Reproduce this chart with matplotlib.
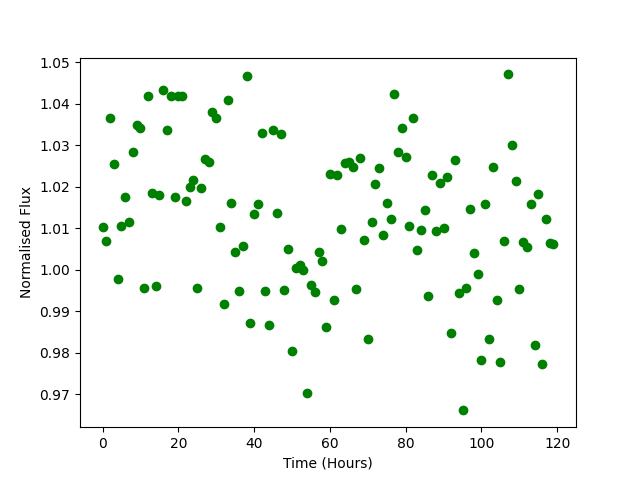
import matplotlib
matplotlib.use("Agg")
import matplotlib.pyplot as plt
import numpy as np

time_hours = list(range(120))
flux = [
    1.0104, 1.0070, 1.0367, 1.0254, 0.9977, 1.0106, 1.0176, 1.0116, 1.0285, 1.0350,
    1.0341, 0.9957, 1.0420, 1.0184, 0.9960, 1.0180, 1.0433, 1.0336, 1.0420, 1.0176,
    1.0418, 1.0420, 1.0165, 1.0199, 1.0216, 0.9955, 1.0197, 1.0266, 1.0261, 1.0380,
    1.0367, 1.0102, 0.9917, 1.0410, 1.0160, 1.0044, 0.9948, 1.0058, 1.0468, 0.9871,
    1.0134, 1.0158, 1.0329, 0.9948, 0.9868, 1.0336, 1.0136, 1.0327, 0.9952, 1.0049,
    0.9804, 1.0005, 1.0011, 1.0000, 0.9702, 0.9963, 0.9946, 1.0042, 1.0020, 0.9861,
    1.0230, 0.9926, 1.0228, 1.0098, 1.0257, 1.0261, 1.0247, 0.9953, 1.0269, 1.0071,
    0.9833, 1.0114, 1.0206, 1.0245, 1.0083, 1.0160, 1.0122, 1.0423, 1.0283, 1.0341,
    1.0273, 1.0105, 1.0367, 1.0047, 1.0095, 1.0143, 0.9936, 1.0228, 1.0093, 1.0208,
    1.0100, 1.0223, 0.9847, 1.0264, 0.9945, 0.9661, 0.9957, 1.0146, 1.0040, 0.9990,
    0.9783, 1.0158, 0.9833, 1.0247, 0.9926, 0.9778, 1.0069, 1.0471, 1.0302, 1.0213,
    0.9953, 1.0066, 1.0055, 1.0158, 0.9818, 1.0182, 0.9772, 1.0122, 1.0064, 1.0061,
]

fig, ax = plt.subplots(figsize=(6.4, 4.8), dpi=100)
ax.plot(time_hours, flux, 'o', color='green')
ax.set_xlabel('Time (Hours)')
ax.set_ylabel('Normalised Flux')
fig.savefig('out.png')
